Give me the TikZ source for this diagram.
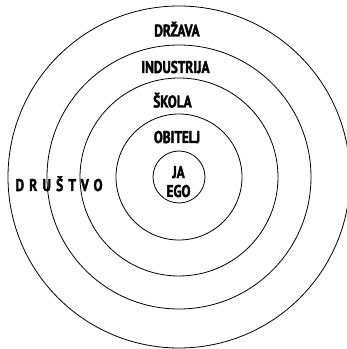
\documentclass[tikz,border=0pt]{standalone}
\usepackage{fontspec}
\newfontfamily\ringfont{PT Sans Bold}[FakeStretch=0.78,FakeBold=2]
\begin{document}
\begin{tikzpicture}[x=1pt,y=1pt]
  \tikzset{
    ring/.style={line width=0.8pt,black},
    tag/.style={font=\ringfont\fontsize{17pt}{19pt}\selectfont,
      inner sep=0pt,anchor=base,align=center}
  }
  \useasboundingbox (0,0) rectangle (347,349);
  \clip (0,0) rectangle (347,349);

  % concentric rings
  \coordinate (c) at (179,172);
  \foreach \r in {26,63,99,132,171}
    \draw[ring] (c) circle (\r);

  % labels, outer to inner
  \node[tag] (drzava) at (177,312.5) {DRŽAVA};
  \node[tag] (industrija) at (175.5,276) {INDUSTRIJA};
  \node[tag] (skola) at (172.5,241.5) {ŠKOLA};
  \node[tag] (obitelj) at (177,206) {OBITELJ};
  \node[tag] (ego) at (178.5,152) {JA\\EGO};
  \node[tag] (drustvo) at (59,158)
    {\addfontfeatures{LetterSpace=31}DRUŠTVO};
\end{tikzpicture}
\end{document}
